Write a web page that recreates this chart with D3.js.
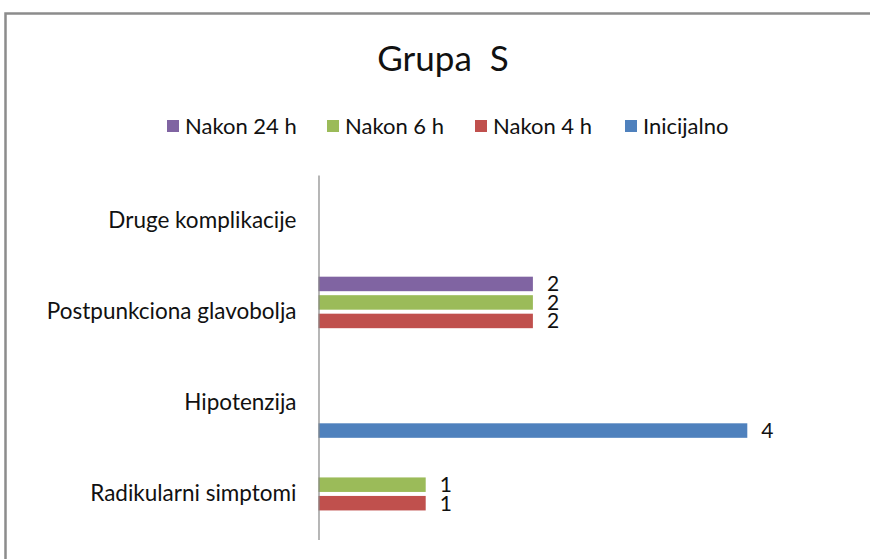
<!DOCTYPE html>
<html>
<head>
<meta charset="utf-8">
<script src="https://cdn.jsdelivr.net/npm/d3@7"></script>
<style>
  html, body { margin: 0; padding: 0; background: #fff; }
  svg { display: block; }
  text { font-family: Lato, "Liberation Sans", sans-serif; fill: #111; }
</style>
</head>
<body>
<svg id="chart" width="870" height="559"></svg>
<script>
// Complications per time point, group S
const categories = ["Radikularni simptomi", "Hipotenzija", "Postpunkciona glavobolja", "Druge komplikacije"];
const seriesNames = ["Inicijalno", "Nakon 4 h", "Nakon 6 h", "Nakon 24 h"];
const seriesColors = ["#4F81BD", "#C0504D", "#9BBB59", "#8064A2"];
// values per series, aligned with categories (null = no entry)
const inicijalno = [null, 4, null, null];
const nakon4h   = [1, null, 2, null];
const nakon6h   = [1, null, 2, null];
const nakon24h  = [null, null, 2, null];
const seriesValues = [inicijalno, nakon4h, nakon6h, nakon24h];
const title = "Grupa  S";

const svg = d3.select("#chart");

// chart frame
svg.append("rect")
  .attr("x", 5.5).attr("y", 13.5)
  .attr("width", 900).attr("height", 600)
  .attr("fill", "#fff")
  .attr("stroke", "#8c8c8c").attr("stroke-width", 2.5);

// title
svg.append("text")
  .attr("x", 443).attr("y", 71)
  .attr("text-anchor", "middle")
  .style("font-size", "35px")
  .style("white-space", "pre")
  .attr("xml:space", "preserve")
  .text(title);

// scales
const x = d3.scaleLinear().domain([0, 5]).range([318.5, 854.5]);
const y = d3.scaleBand()
  .domain(categories.slice().reverse())
  .range([175, 539.5])
  .paddingInner(0).paddingOuter(0);
// series inside each category band: first series at the bottom
const ySeries = d3.scaleBand()
  .domain(seriesNames.slice().reverse())
  .range([-37, 37])
  .paddingInner(0.216).paddingOuter(0.108);

// bars
const rows = [];
seriesNames.forEach((s, si) => {
  categories.forEach((c, ci) => {
    const v = seriesValues[si][ci];
    if (v !== null) rows.push({ series: s, color: seriesColors[si], cat: c, value: v });
  });
});

const plot = svg.append("g");
plot.selectAll("rect.bar")
  .data(rows)
  .join("rect")
  .attr("class", "bar")
  .attr("x", x(0))
  .attr("y", d => y(d.cat) + y.bandwidth() / 2 + ySeries(d.series))
  .attr("width", d => x(d.value) - x(0))
  .attr("height", ySeries.bandwidth())
  .attr("fill", d => d.color);

// value labels
plot.selectAll("text.val")
  .data(rows)
  .join("text")
  .attr("class", "val")
  .attr("x", d => x(d.value) + 14)
  .attr("y", d => y(d.cat) + y.bandwidth() / 2 + ySeries(d.series) + ySeries.bandwidth() / 2)
  .attr("dy", "0.36em")
  .style("font-size", "21px")
  .text(d => d.value);

// category axis
const axis = svg.append("g")
  .attr("transform", `translate(${x(0)},0)`)
  .call(d3.axisLeft(y).tickSize(0).tickPadding(22));
axis.select(".domain").attr("stroke", "#868686").attr("stroke-width", 1.2);
axis.selectAll(".tick text")
  .style("font-size", "22.5px")
  .style("font-family", "Lato, 'Liberation Sans', sans-serif")
  .attr("fill", "#111");

// legend (reverse order, left to right)
const legendItems = seriesNames.map((s, i) => ({ name: s, color: seriesColors[i] })).reverse();
const legendX = [167, 327, 475, 625];
const legend = svg.append("g");
legendItems.forEach((d, i) => {
  const g = legend.append("g").attr("transform", `translate(${legendX[i]},126)`);
  g.append("rect").attr("x", 0).attr("y", -6).attr("width", 12).attr("height", 12).attr("fill", d.color);
  g.append("text").attr("x", 18).attr("y", 0).attr("dy", "0.36em")
    .style("font-size", "22px").text(d.name);
});
</script>
</body>
</html>
